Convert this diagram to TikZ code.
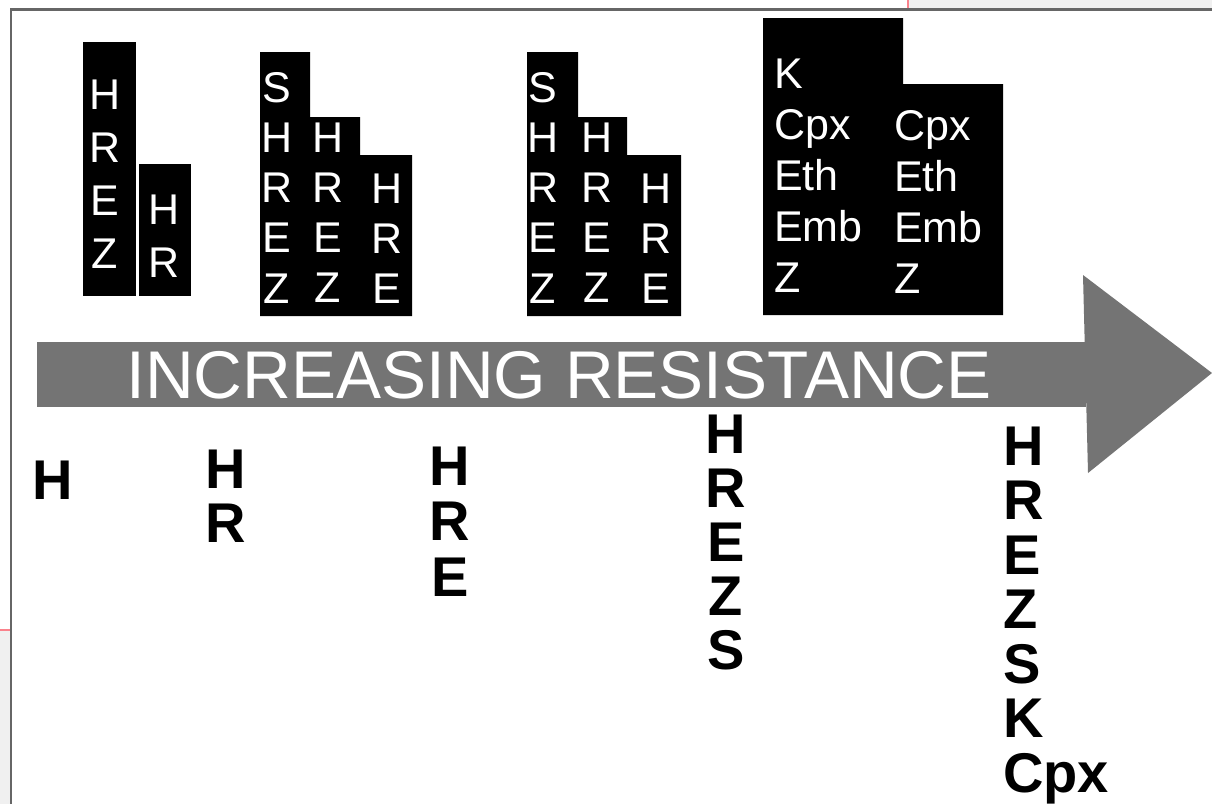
\documentclass[tikz,border=0pt]{standalone}
\usepackage{fontspec}
\setmainfont{Liberation Sans}
\definecolor{arrowgray}{RGB}{116,116,116}
\definecolor{framegray}{RGB}{102,102,102}
\definecolor{panelgray}{RGB}{240,240,240}
\definecolor{pinkline}{RGB}{250,130,140}
\tikzset{
  boxtxt/.style={text=white, inner sep=0pt, font=\fontsize{43}{50}\selectfont},
  boxtxtl/.style={text=white, inner sep=0pt, anchor=base west, font=\fontsize{43}{50}\selectfont},
  lbl/.style={text=black, inner sep=0pt, anchor=base, font=\bfseries\fontsize{56}{60}\selectfont},
  lbll/.style={lbl, anchor=base west},
  blk/.style={fill=black, draw=none},
}
\begin{document}
\begin{tikzpicture}[x=1pt,y=-1pt]
\useasboundingbox (0,0) rectangle (1212,804);
\fill[white] (0,0) rectangle (1212,804);
% frame of the screenshot
\fill[panelgray] (909,0) rectangle (1212,8);
\draw[pinkline, line width=1.5pt] (908,0) -- (908,8);
\fill[panelgray] (0,631) rectangle (10,804);
\draw[pinkline, line width=1.5pt] (0,630) -- (10,630);
\draw[framegray, line width=2.5pt] (1212,9.5) -- (11,9.5) -- (11,804);
% black blocks
\fill[blk] (83,42) rectangle (136,296);
\fill[blk] (139,164) rectangle (191,296);
\fill[blk] (260,52) -- (310,52) -- (310,117) -- (360,117) -- (360,155) -- (412,155) -- (412,316) -- (260,316) -- cycle;
\fill[blk] (527,52) -- (578,52) -- (578,117) -- (627,117) -- (627,155) -- (681,155) -- (681,316) -- (527,316) -- cycle;
\fill[blk] (763,18) -- (903,18) -- (903,84) -- (1003,84) -- (1003,315) -- (763,315) -- cycle;
% block letters
\foreach \t [count=\i] in {H,R,E,Z} \node[boxtxt, anchor=base] (a\i) at (105,{109+(\i-1)*53}) {\t};
\foreach \t [count=\i] in {H,R} \node[boxtxt, anchor=base] (b\i) at (164,{224+(\i-1)*53}) {\t};
\foreach \t [count=\i] in {S,H,R,E,Z} \node[boxtxt, anchor=base] (c\i) at (277,{102+(\i-1)*50.3}) {\t};
\foreach \t [count=\i] in {H,R,E,Z} \node[boxtxt, anchor=base] (d\i) at (328,{152+(\i-1)*50.3}) {\t};
\foreach \t [count=\i] in {H,R,E} \node[boxtxt, anchor=base] (e\i) at (387,{203+(\i-1)*50.3}) {\t};
\foreach \t [count=\i] in {S,H,R,E,Z} \node[boxtxt, anchor=base] (f\i) at (543,{102+(\i-1)*50.3}) {\t};
\foreach \t [count=\i] in {H,R,E,Z} \node[boxtxt, anchor=base] (g\i) at (597,{152+(\i-1)*50.3}) {\t};
\foreach \t [count=\i] in {H,R,E} \node[boxtxt, anchor=base] (h\i) at (656,{203+(\i-1)*50.3}) {\t};
\foreach \t [count=\i] in {K,Cpx,Eth,Emb,Z} \node[boxtxtl] (k\i) at (774,{88+(\i-1)*51}) {\t};
\foreach \t [count=\i] in {Cpx,Eth,Emb,Z} \node[boxtxtl] (m\i) at (894,{140+(\i-1)*51}) {\t};
% arrow
\fill[arrowgray] (37,342) rectangle (1086,407);
\fill[arrowgray] (1083,275) -- (1212,373) -- (1088,473) -- cycle;
\node[text=white, inner sep=0pt, anchor=base, font=\fontsize{67.5}{70}\selectfont] (title) at (559,398) {INCREASING RESISTANCE};
% labels below
\node[lbl] (p1) at (53,499) {H};
\foreach \t [count=\i] in {H,R} \node[lbl] (q\i) at (226,{488+(\i-1)*54}) {\t};
\foreach \t [count=\i] in {H,R,E} \node[lbl] (r\i) at (450,{485+(\i-1)*55.5}) {\t};
\foreach \t [count=\i] in {H,R,E,Z,S} \node[lbl] (s\i) at (726,{453+(\i-1)*54}) {\t};
\foreach \t [count=\i] in {H,R,E,Z,S,K,Cpx} \node[lbll] (t\i) at (1003,{465+(\i-1)*54.5}) {\t};
\end{tikzpicture}
\end{document}
